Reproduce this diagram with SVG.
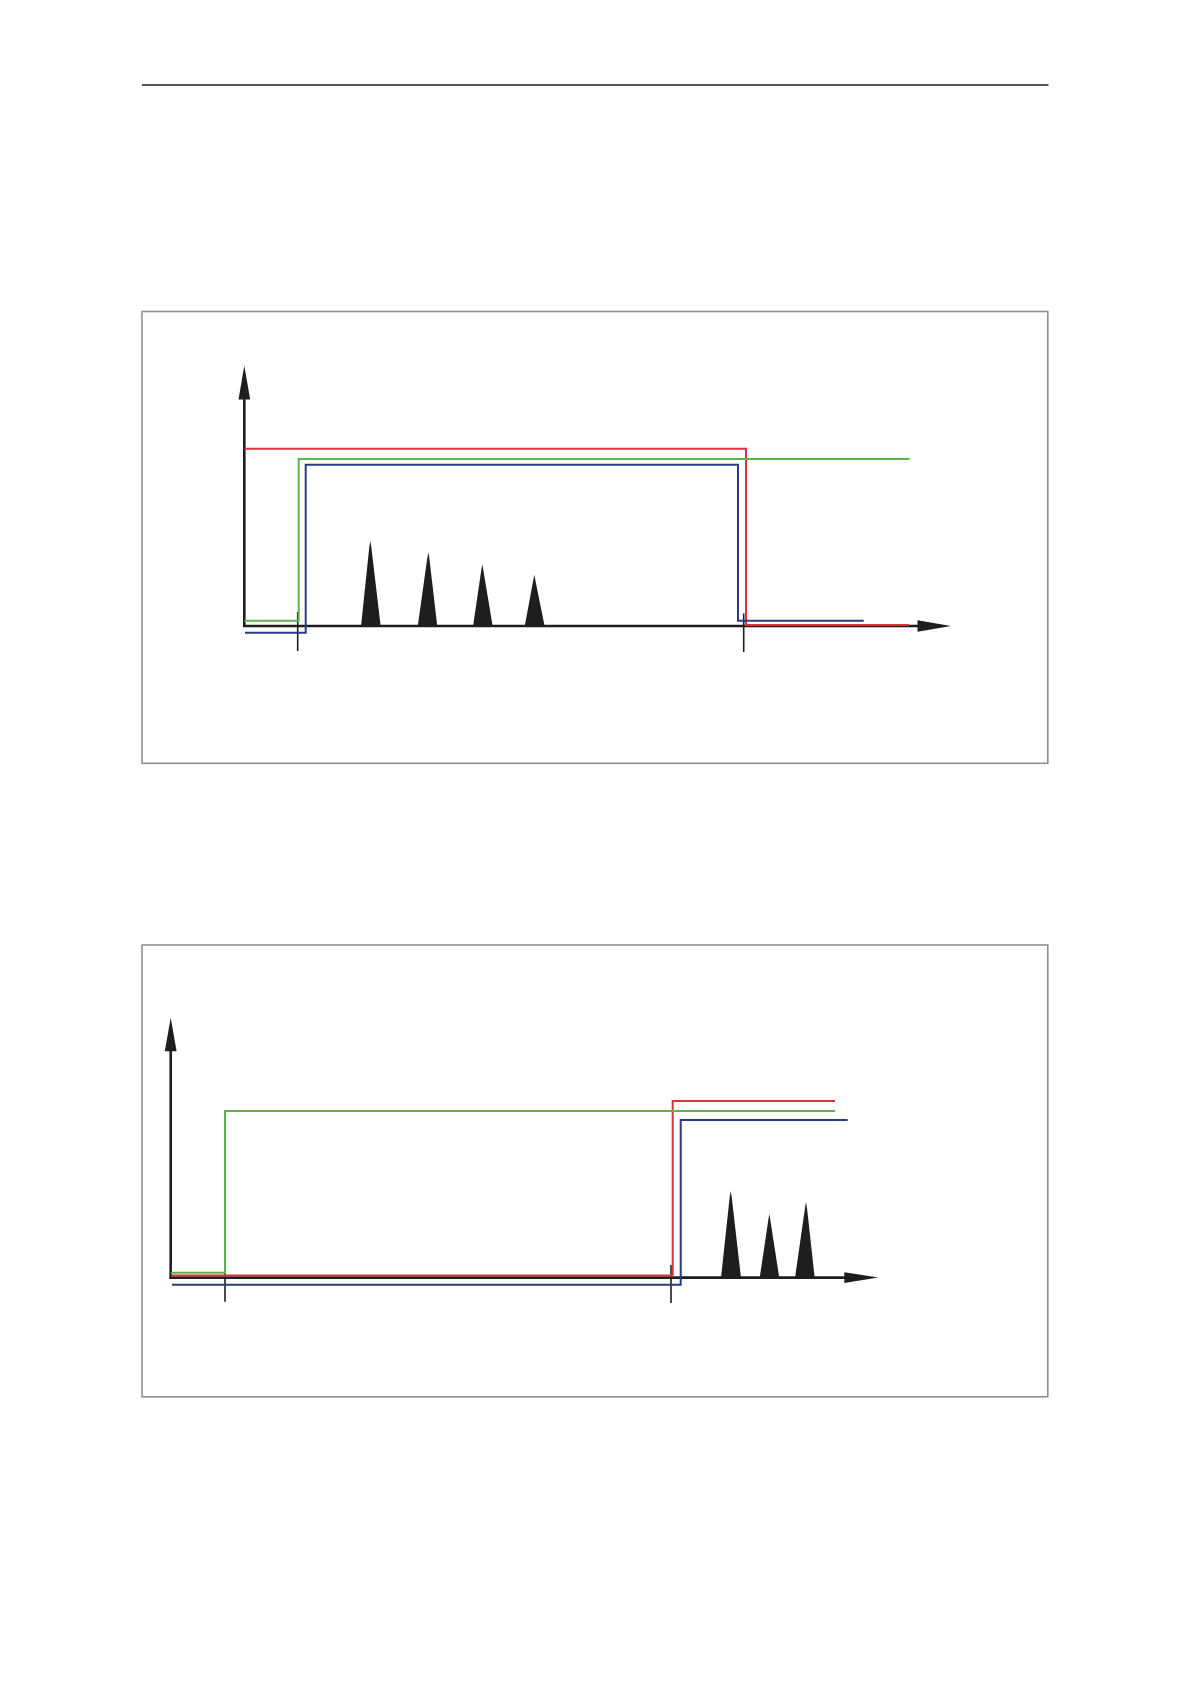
<svg xmlns="http://www.w3.org/2000/svg" width="1191" height="1684" viewBox="0 0 1191 1684">
<style>
.frame{fill:none;stroke:#8f8f8f;stroke-width:1.6}
.axis{fill:none;stroke:#1e1e1e;stroke-width:2.6}
.tick{fill:none;stroke:#1e1e1e;stroke-width:1.6}
.red{fill:none;stroke:#d7343b;stroke-width:2}
.green{fill:none;stroke:#5bb54b;stroke-width:2}
.blue{fill:none;stroke:#27398a;stroke-width:2}
.peak{fill:#1e1e1e}
</style>
<rect width="1191" height="1684" fill="#ffffff"/>
<line x1="142" y1="85" x2="1048.5" y2="85" stroke="#1e1e1e" stroke-width="1.6"/>
<g id="chart1">
<rect class="frame" x="142" y="311.5" width="905.8" height="451.8"/>
<g id="axes1">
<line class="axis" x1="244.3" y1="627" x2="244.3" y2="398"/>
<polygon class="peak" points="244.3,365.7 250.2,399.5 238.5,399.5"/>
<line class="axis" x1="243" y1="626" x2="919" y2="626"/>
<polygon class="peak" points="951,626 917.5,620.3 917.5,631.7"/>
<line class="tick" x1="297.7" y1="612" x2="297.7" y2="651"/>
<line class="tick" x1="743.7" y1="613.5" x2="743.7" y2="652"/>
</g>
<g id="peaks1">
<polygon class="peak" points="361,626.5 369.3,547 370.3,540.7 371.3,547 380.7,626.5"/>
<polygon class="peak" points="417.7,626.5 427.3,558 428.3,552.3 429.3,558 437.3,626.5"/>
<polygon class="peak" points="473,626.5 481.3,570 482.3,564.3 483.3,570 492.7,626.5"/>
<polygon class="peak" points="524.7,626.5 533.3,580 534.3,574.7 535.3,580 544.7,626.5"/>
</g>
<g id="signals1">
<polyline class="red" points="244.5,448.8 746,448.8 746,625 909,625"/>
<polyline class="green" points="244.5,620.7 298.7,620.7 298.7,459 909.7,459"/>
<polyline class="blue" points="245,632.7 305.7,632.7 305.7,464.8 738,464.8 738,620.7 863.7,620.7"/>
</g>
</g>
<g id="chart2">
<rect class="frame" x="142" y="945" width="905.8" height="451.8"/>
<g id="axes2">
<line class="axis" x1="170.7" y1="1279" x2="170.7" y2="1050"/>
<polygon class="peak" points="170.7,1017.7 176.6,1051.2 164.8,1051.2"/>
<line class="axis" x1="169.5" y1="1277.6" x2="846" y2="1277.6"/>
<polygon class="peak" points="878.3,1277.6 844.3,1272.2 844.3,1283"/>
<line class="tick" x1="225" y1="1264" x2="225" y2="1301.7"/>
<line class="tick" x1="671" y1="1265" x2="671" y2="1303"/>
</g>
<g id="peaks2">
<polygon class="peak" points="721,1278 729.7,1197 730.7,1191 731.7,1197 741,1278"/>
<polygon class="peak" points="759.7,1278 768.3,1220 769.3,1214 770.3,1220 779.3,1278"/>
<polygon class="peak" points="795,1278 805,1208 806,1202 807,1208 814.7,1278"/>
</g>
<g id="signals2">
<polyline class="red" points="171,1275.6 672.7,1275.6 672.7,1101 835,1101"/>
<polyline class="green" points="171,1272.7 225,1272.7 225,1111 835,1111"/>
<polyline class="blue" points="172,1284.8 680.7,1284.8 680.7,1120 847.7,1120"/>
</g>
</g>
</svg>
